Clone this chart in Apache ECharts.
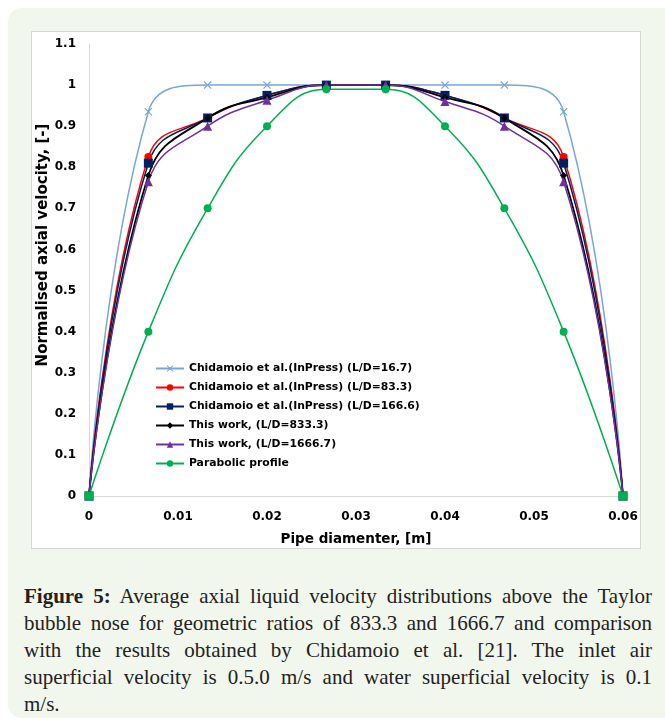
<!DOCTYPE html>
<html>
<head>
<meta charset="utf-8">
<script src="https://cdn.jsdelivr.net/npm/echarts@6/dist/echarts.min.js"></script>
<style>
  html, body { margin: 0; padding: 0; background: #fff; }
  body { width: 665px; height: 722px; position: relative; overflow: hidden; }
  #panel {
    position: absolute; left: 8px; top: 8px; width: 670px; height: 710px;
    background: #f2f7ed; border-radius: 14px;
  }
  #box {
    position: absolute; left: 31px; top: 31px; width: 610px; height: 518px;
    box-sizing: border-box; border: 1px solid #d6d9d3; background: #fff;
  }
  #chart { width: 608px; height: 516px; }
  #caption {
    position: absolute; left: 24px; top: 583px; width: 628px;
    font-family: "Liberation Serif", serif;
    font-size: 21px; line-height: 27px; color: #222;
  }
  #caption div { text-align: justify; text-align-last: justify; }
  #caption div.last { text-align-last: left; }
</style>
</head>
<body>
<div id="panel"></div>
<div id="box"><div id="chart"></div></div>
<div id="caption">
  <div><b>Figure 5:</b> Average axial liquid velocity distributions above the Taylor</div>
  <div>bubble nose for geometric ratios of 833.3 and 1666.7 and comparison</div>
  <div>with the results obtained by Chidamoio et al. [21]. The inlet air</div>
  <div>superficial velocity is 0.5.0 m/s and water superficial velocity is 0.1</div>
  <div class="last">m/s.</div>
</div>
<script>
// radial positions across the pipe [m]
var xPos = [0, 0.00667, 0.01333, 0.02, 0.02667, 0.03333, 0.04, 0.04667, 0.05333, 0.06];

// normalised axial velocity
var chid167  = [0, 0.935, 1.0, 1.0, 1.0, 1.0, 1.0, 1.0, 0.935, 0];
var chid833  = [0, 0.825, 0.92, 0.975, 1.0, 1.0, 0.975, 0.92, 0.825, 0];
var chid1666 = [0, 0.81, 0.92, 0.975, 1.0, 1.0, 0.975, 0.92, 0.81, 0];
var work833  = [0, 0.78, 0.92, 0.97, 1.0, 1.0, 0.97, 0.92, 0.78, 0];
var work1666 = [0, 0.765, 0.90, 0.963, 1.0, 1.0, 0.96, 0.90, 0.765, 0];
var parabolic = [0, 0.4, 0.7, 0.9, 0.99, 0.99, 0.9, 0.7, 0.4, 0];

var names = [
    'Chidamoio et al.(InPress) (L/D=16.7)',
    'Chidamoio et al.(InPress) (L/D=83.3)',
    'Chidamoio et al.(InPress) (L/D=166.6)',
    'This work, (L/D=833.3)',
    'This work, (L/D=1666.7)',
    'Parabolic profile'
];

var crossPath = 'path://M0,1L1,0L5,4L9,0L10,1L6,5L10,9L9,10L5,6L1,10L0,9L4,5Z';
var font = 'DejaVu Sans';

function pairs (ys) {
    return ys.map(function (y, i) { return [xPos[i], y]; });
}

function mkSeries (name, ys, color, symbol, size, width) {
    return {
        name: name,
        type: 'line',
        smooth: 0.45,
        data: pairs(ys),
        symbol: symbol,
        symbolSize: size,
        showAllSymbol: true,
        lineStyle: { color: color, width: width },
        itemStyle: { color: color },
        emphasis: { disabled: true },
        animation: false
    };
}

var green = mkSeries(names[5], parabolic, '#00b050', 'circle', 8, 1.5);
// end points of the parabolic profile show as squares
green.data[0] = { value: green.data[0], symbol: 'rect', symbolSize: 9 };
green.data[green.data.length - 1] = { value: green.data[green.data.length - 1], symbol: 'rect', symbolSize: 9 };

var myChart = echarts.init(document.getElementById('chart'));
var option = {
    animation: false,
    grid: { left: 57, top: 12, right: 17, bottom: 52, containLabel: false, outerBoundsMode: 'none' },
    legend: {
        orient: 'vertical',
        left: 123,
        top: 331,
        padding: 0,
        itemGap: 8,
        itemWidth: 28,
        itemHeight: 8,
        textStyle: { fontFamily: font, fontWeight: 'bold', fontSize: 10.8, color: '#000' },
        data: names
    },
    xAxis: {
        type: 'value',
        min: 0,
        max: 0.06,
        interval: 0.01,
        name: 'Pipe diamenter, [m]',
        nameLocation: 'middle',
        nameGap: 36,
        nameMoveOverlap: false,
        nameTextStyle: { fontFamily: font, fontWeight: 'bold', fontSize: 13.5, color: '#000' },
        axisLine: { show: true, lineStyle: { color: '#d9d9d9', width: 1 } },
        axisTick: { show: false },
        splitLine: { show: false },
        axisLabel: {
            margin: 15,
            fontFamily: font, fontWeight: 'bold', fontSize: 12, color: '#000',
            formatter: function (v) { return String(parseFloat(v.toFixed(2))); }
        }
    },
    yAxis: {
        type: 'value',
        min: 0,
        max: 1.1,
        interval: 0.1,
        name: 'Normalised axial velocity, [-]',
        nameLocation: 'middle',
        nameGap: 38,
        nameMoveOverlap: false,
        nameTextStyle: { fontFamily: font, fontWeight: 'bold', fontSize: 15, color: '#000', padding: [0, 0, 0, 50] },
        axisLine: { show: true, lineStyle: { color: '#d9d9d9', width: 1 } },
        axisTick: { show: false },
        splitLine: { show: false },
        axisLabel: {
            margin: 13,
            fontFamily: font, fontWeight: 'bold', fontSize: 12, color: '#000',
            formatter: function (v) { return String(parseFloat(v.toFixed(1))); }
        }
    },
    series: [
        mkSeries(names[0], chid167, '#78a6d8', crossPath, 8, 1.5),
        mkSeries(names[1], chid833, '#ff0000', 'circle', 8, 1.5),
        mkSeries(names[2], chid1666, '#002060', 'rect', 9, 1.5),
        mkSeries(names[3], work833, '#000000', 'diamond', 7, 1.8),
        mkSeries(names[4], work1666, '#7030a0', 'triangle', 9, 1.5),
        green
    ]
};
option && myChart.setOption(option);
</script>
</body>
</html>
